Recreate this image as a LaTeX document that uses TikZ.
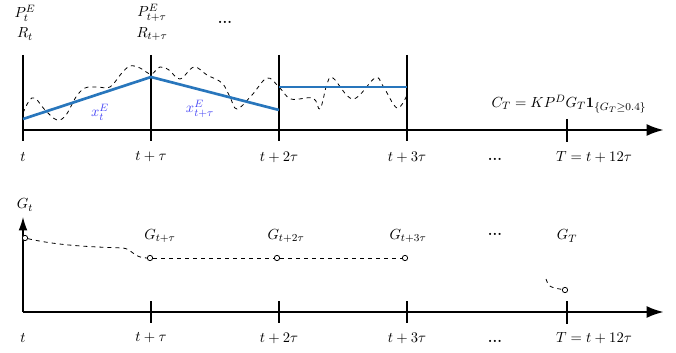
\documentclass[tikz,border=0pt]{standalone}
\usetikzlibrary{arrows.meta}

\definecolor{pathblue}{RGB}{40,118,188}
\definecolor{labelblue}{RGB}{72,72,245}

\tikzset{
  every node/.style={font=\fontsize{11.2}{13.5}\selectfont, inner sep=1pt},
  timeaxis/.style={line width=2pt, -{Latex[length=13pt, width=9pt]}},
  slotline/.style={line width=0.8pt},
  bigtick/.style={line width=2pt},
  mark dot/.style={circle, draw, fill=white, inner sep=0pt, minimum size=4pt, line width=0.6pt},
  dots/.style={font=\fontsize{11.2}{13.5}\selectfont\bfseries}
}

\begin{document}
\begin{tikzpicture}[x=0.75pt, y=-0.75pt]
  \useasboundingbox (0,0) rectangle (676,353);

  % --- Top panel: axis and slots ---
  \coordinate (ta0) at (23,130);
  \coordinate (ta1) at (664,130);
  \draw[timeaxis] (ta0) -- (ta1);

  \foreach \x/\lab [count=\i] in {23/t, 151/t+\tau, 279/t+2\tau, 407/t+3\tau} {
    \draw[slotline] (\x,55) -- (\x,141);
    \node (tt\i) at (\x,157) {$\lab$};
  }
  \draw[bigtick] (567,119) -- (567,142);
  \node (ttT) at (594,157) {$T=t+12\tau$};
  \node[dots] (ttdots) at (495,159) {...};

  % --- Top panel: prices ---
  \node (p0) at (25,13) {$P^E_t$};
  \node (r0) at (25,34) {$R_t$};
  \node (p1) at (152,13) {$P^E_{t+\tau}$};
  \node (r1) at (152,34) {$R_{t+\tau}$};
  \node[dots] (pdots) at (225,22) {...};

  % --- Top panel: realised path ---
  \draw[dashed, line width=0.6pt] plot[smooth, tension=0.6] coordinates {
    (23,113) (29,101) (35,98) (45,110) (57,120) (66,115) (76,97) (85,88)
    (97,87) (110,87) (121,74) (130,66) (140,68) (151,74) (160,67) (169,70)
    (180,79) (194,67) (207,75) (222,83) (230,97) (237,109) (252,95) (267,78)
    (279,87) (291,99) (313,98) (320,109) (327,84) (333,78) (353,99) (375,78)
    (383,86) (397,108) (407,95)};

  % --- Top panel: hedge positions ---
  \coordinate (b0) at (23,119);
  \coordinate (b1) at (151,77);
  \coordinate (b2) at (279,110);
  \coordinate (b3) at (279,87);
  \coordinate (b4) at (407,87);
  \draw[pathblue, line width=2pt] (b0) -- (b1) -- (b2);
  \draw[pathblue, line width=2pt] (b3) -- (b4);
  \node[labelblue] (x0) at (100,112) {$x^E_t$};
  \node[labelblue] (x1) at (200,109) {$x^E_{t+\tau}$};

  \node (cost) at (569,104) {$C_T = KP^DG_T\mathbf{1}_{\{G_T\geq 0.4\}}$};

  % --- Bottom panel: axes ---
  \coordinate (ba0) at (23,312);
  \coordinate (ba1) at (664,312);
  \coordinate (bay) at (23,217);
  \draw[timeaxis] (ba0) -- (ba1);
  \draw[slotline, -{Latex[length=10pt, width=6.5pt]}] (ba0) -- (bay);
  \node (gax) at (25,205) {$G_t$};

  \foreach \x/\lab [count=\i] in {151/t+\tau, 279/t+2\tau, 407/t+3\tau} {
    \draw[slotline] (\x,301) -- (\x,323);
    \node (bt\i) at (\x,338) {$\lab$};
  }
  \node (bt0) at (23,338) {$t$};
  \draw[bigtick] (567,301) -- (567,324);
  \node (btT) at (594,338) {$T=t+12\tau$};
  \node[dots] (btdots) at (495,341) {...};

  % --- Bottom panel: G values ---
  \node[mark dot] (g0) at (25,238) {};
  \node[mark dot] (g1) at (150,258) {};
  \node[mark dot] (g2) at (277,258) {};
  \node[mark dot] (g3) at (405,258) {};
  \node[mark dot] (gT) at (565,290) {};
  \coordinate (gs) at (546,279);

  \draw[dashed, line width=0.6pt] (g0) .. controls (60,246) and (95,247) .. (123,248)
    .. controls (132,249) and (134,258) .. (g1);
  \draw[dashed, line width=0.6pt] (g1) -- (g2) -- (g3);
  \draw[dashed, line width=0.6pt] (gs) .. controls (549,287) .. (gT);

  \node (gl1) at (160,236) {$G_{t+\tau}$};
  \node (gl2) at (286,236) {$G_{t+2\tau}$};
  \node (gl3) at (408,236) {$G_{t+3\tau}$};
  \node[dots] (gldots) at (495,234) {...};
  \node (glT) at (567,236) {$G_T$};

\end{tikzpicture}
\end{document}
